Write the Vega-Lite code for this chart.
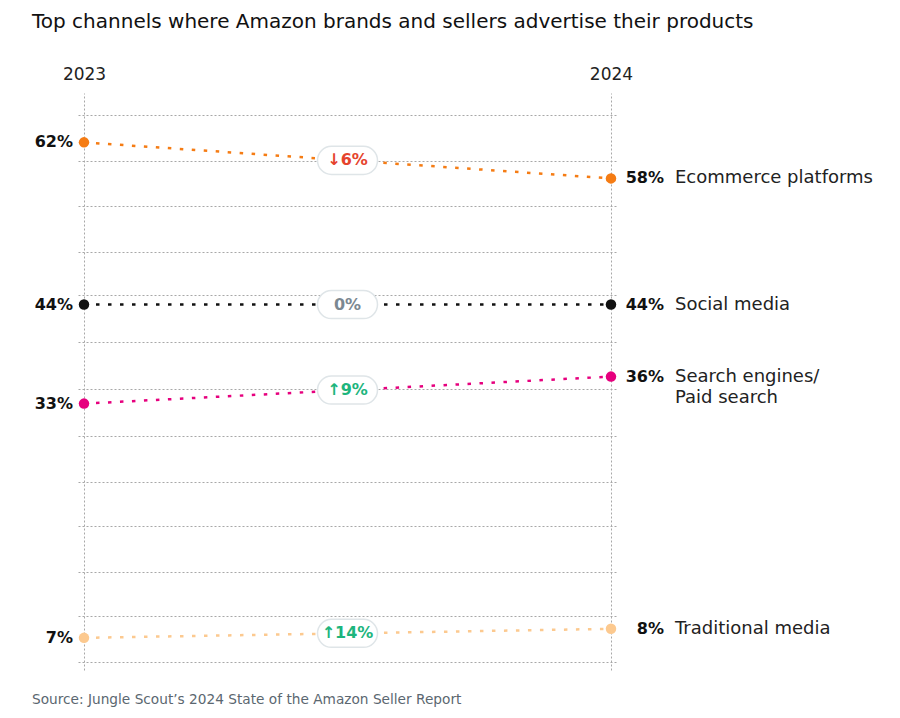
{
  "$schema": "https://vega.github.io/schema/vega-lite/v6.json",
  "width": 539,
  "height": 577,
  "autosize": {"type": "none"},
  "padding": {"left": 78, "top": 93, "right": 283, "bottom": 48},
  "background": "white",
  "config": {"view": {"stroke": null}, "font": "DejaVu Sans"},
  "title": {
    "text": "Top channels where Amazon brands and sellers advertise their products",
    "anchor": "start",
    "frame": "group",
    "dx": -46,
    "offset": 33,
    "fontSize": 20,
    "fontWeight": "normal",
    "color": "#111111"
  },
  "resolve": {"scale": {"color": "independent"}},
  "data": {
    "values": [
      {"channel": "Ecommerce platforms", "year": 2023, "pct": 0.62, "change": "↓6%", "dir": "down"},
      {"channel": "Ecommerce platforms", "year": 2024, "pct": 0.58, "change": "↓6%", "dir": "down"},
      {"channel": "Social media", "year": 2023, "pct": 0.44, "change": "0%", "dir": "flat"},
      {"channel": "Social media", "year": 2024, "pct": 0.44, "change": "0%", "dir": "flat"},
      {"channel": "Search engines/\nPaid search", "year": 2023, "pct": 0.33, "change": "↑9%", "dir": "up"},
      {"channel": "Search engines/\nPaid search", "year": 2024, "pct": 0.36, "change": "↑9%", "dir": "up"},
      {"channel": "Traditional media", "year": 2023, "pct": 0.07, "change": "↑14%", "dir": "up"},
      {"channel": "Traditional media", "year": 2024, "pct": 0.08, "change": "↑14%", "dir": "up"}
    ]
  },
  "encoding": {
    "x": {
      "field": "year",
      "type": "quantitative",
      "scale": {"domain": [2022.9886, 2024.0114]},
      "axis": {
        "orient": "top",
        "values": [2023, 2024],
        "format": "d",
        "title": null,
        "grid": true,
        "gridDash": [2, 2],
        "gridColor": "#a8a8a8",
        "gridWidth": 1,
        "ticks": false,
        "domain": false,
        "labelFontSize": 17,
        "labelPadding": 10,
        "labelColor": "#222222"
      }
    },
    "y": {
      "field": "pct",
      "type": "quantitative",
      "scale": {"domain": [0.0343, 0.6748]},
      "axis": {
        "values": [0.0432, 0.0942, 0.1431, 0.1941, 0.2429, 0.294, 0.3462, 0.3984, 0.4505, 0.4983, 0.5493, 0.5992, 0.6502],
        "grid": true,
        "gridDash": [2, 2],
        "gridColor": "#a8a8a8",
        "gridWidth": 1,
        "labels": false,
        "ticks": false,
        "domain": false,
        "title": null
      }
    }
  },
  "layer": [
    {
      "mark": {"type": "line", "strokeDash": [3.5, 8.5], "strokeWidth": 2.5},
      "encoding": {
        "color": {
          "field": "channel",
          "type": "nominal",
          "scale": {
            "domain": ["Ecommerce platforms", "Social media", "Search engines/\nPaid search", "Traditional media"],
            "range": ["#f57c14", "#111111", "#e6007e", "#fcc98f"]
          },
          "legend": null
        }
      }
    },
    {
      "mark": {"type": "circle", "size": 110, "opacity": 1},
      "encoding": {
        "color": {
          "field": "channel",
          "type": "nominal",
          "scale": {
            "domain": ["Ecommerce platforms", "Social media", "Search engines/\nPaid search", "Traditional media"],
            "range": ["#f57c14", "#111111", "#e6007e", "#fcc98f"]
          },
          "legend": null
        }
      }
    },
    {
      "transform": [
        {"aggregate": [{"op": "mean", "field": "year", "as": "year"}, {"op": "mean", "field": "pct", "as": "pct"}], "groupby": ["channel", "change", "dir"]}
      ],
      "mark": {
        "type": "point",
        "shape": "M -0.533 -0.467 L 0.533 -0.467 A 0.467 0.467 0 0 1 0.533 0.467 L -0.533 0.467 A 0.467 0.467 0 0 1 -0.533 -0.467 Z",
        "size": 3600,
        "filled": true,
        "fill": "#ffffff",
        "stroke": "#dfe5e8",
        "strokeWidth": 1.5,
        "opacity": 1
      }
    },
    {
      "transform": [
        {"aggregate": [{"op": "mean", "field": "year", "as": "year"}, {"op": "mean", "field": "pct", "as": "pct"}], "groupby": ["channel", "change", "dir"]}
      ],
      "mark": {"type": "text", "fontSize": 16, "fontWeight": "bold", "align": "center", "baseline": "middle"},
      "encoding": {
        "text": {"field": "change"},
        "color": {
          "field": "dir",
          "type": "nominal",
          "scale": {"domain": ["down", "flat", "up"], "range": ["#e5432d", "#7b8891", "#1db57d"]},
          "legend": null
        }
      }
    },
    {
      "transform": [{"filter": "datum.year == 2023"}],
      "mark": {"type": "text", "fontSize": 16, "fontWeight": "bold", "align": "right", "baseline": "middle", "dx": -11, "color": "#111111"},
      "encoding": {"text": {"field": "pct", "format": ".0%"}}
    },
    {
      "transform": [{"filter": "datum.year == 2024"}],
      "mark": {"type": "text", "fontSize": 16, "fontWeight": "bold", "align": "right", "baseline": "middle", "dx": 53, "color": "#111111"},
      "encoding": {"text": {"field": "pct", "format": ".0%"}}
    },
    {
      "transform": [{"filter": "datum.year == 2024"}],
      "mark": {"type": "text", "fontSize": 18, "align": "left", "baseline": "top", "dx": 64, "dy": -9, "lineBreak": "\n", "lineHeight": 21, "color": "#222222"},
      "encoding": {"text": {"field": "channel"}}
    },
    {
      "data": {"values": [{"src": "Source: Jungle Scout’s 2024 State of the Amazon Seller Report", "year": 2023, "pct": 0.001}]},
      "mark": {"type": "text", "fontSize": 13.7, "align": "left", "baseline": "middle", "dx": -52, "clip": false, "color": "#5b6770"},
      "encoding": {
        "text": {"field": "src"}
      }
    }
  ]
}
